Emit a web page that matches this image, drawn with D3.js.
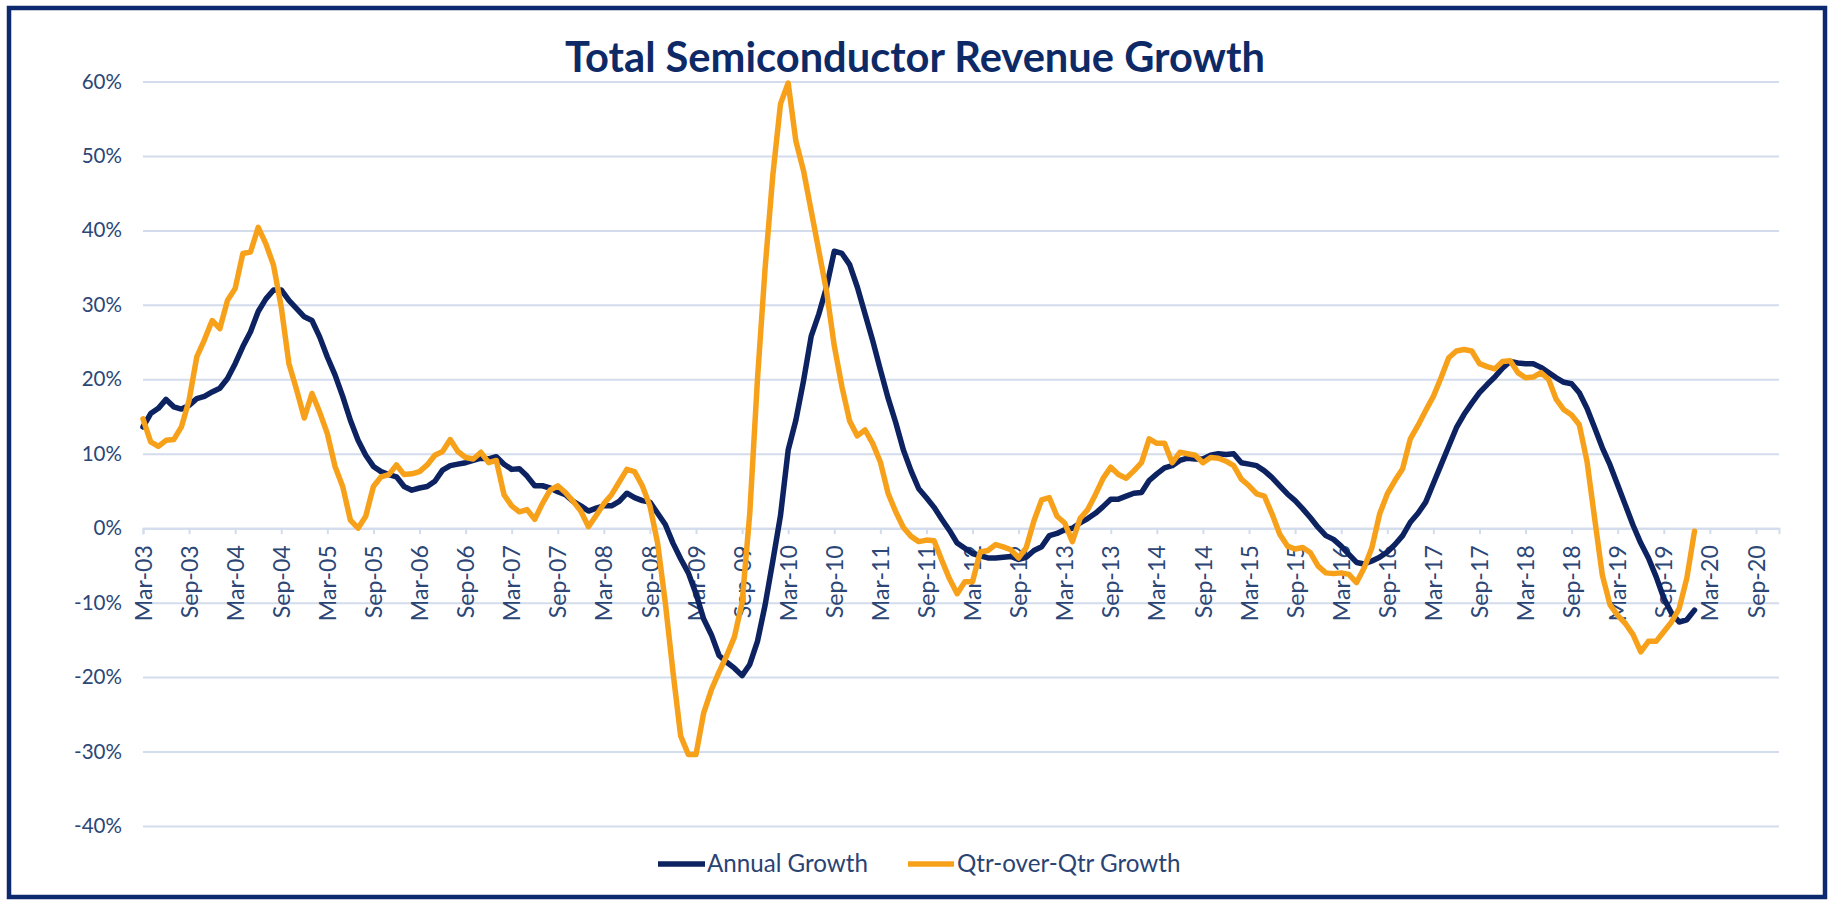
<!DOCTYPE html>
<html>
<head>
<meta charset="utf-8">
<title>Total Semiconductor Revenue Growth</title>
<script src="https://cdn.jsdelivr.net/npm/d3@7"></script>
<style>
  html, body { margin: 0; padding: 0; background: #ffffff; }
  svg { display: block; }
  text { font-family: Lato, "Open Sans", "DejaVu Sans", sans-serif; }
</style>
</head>
<body>
<svg id="chart" width="1832" height="901"></svg>
<script>
// Monthly growth rates (%), starting March 2003
const startMonth = "2003-03";

const annualGrowth = [
  13.6, 15.4, 16.1, 17.3, 16.3, 16.0, 16.5, 17.4, 17.7, 18.3, 18.8, 20.1,
  22.1, 24.4, 26.4, 29.1, 30.8, 32.0, 32.0, 30.6, 29.5, 28.4, 27.9, 25.7,
  23.0, 20.6, 17.7, 14.5, 11.8, 9.8, 8.3, 7.6, 7.2, 6.9, 5.6, 5.1,
  5.4, 5.6, 6.3, 7.8, 8.4, 8.6, 8.8, 9.1, 9.4, 9.3, 9.6, 8.6,
  7.9, 8.0, 7.0, 5.7, 5.7, 5.4, 4.9, 4.5, 3.6, 3.0, 2.3, 2.7,
  3.0, 3.0, 3.6, 4.7, 4.1, 3.7, 3.5, 2.0, 0.5, -2.0, -4.1, -6.0,
  -8.8, -12.2, -14.3, -17.1, -18.0, -18.8, -19.8, -18.3, -15.2, -10.3, -4.4, 1.7,
  10.5, 14.5, 19.8, 25.8, 28.8, 32.4, 37.2, 36.9, 35.4, 32.4, 28.8, 25.2,
  21.3, 17.5, 14.2, 10.5, 7.7, 5.3, 4.1, 2.8, 1.2, -0.3, -2.0, -2.7,
  -3.4, -3.7, -4.0, -4.0, -3.9, -3.8, -4.2, -3.9, -3.0, -2.5, -1.0, -0.7,
  -0.2, 0.0, 0.7, 1.3, 2.0, 2.9, 3.9, 3.9, 4.3, 4.7, 4.8, 6.4,
  7.3, 8.1, 8.4, 9.1, 9.4, 9.3, 9.3, 9.8, 10.0, 9.9, 10.0, 8.8,
  8.6, 8.4, 7.7, 6.8, 5.7, 4.6, 3.7, 2.6, 1.4, 0.1, -1.0, -1.5,
  -2.4, -3.5, -4.6, -4.8, -4.4, -3.9, -3.2, -2.2, -1.0, 0.8, 2.0, 3.5,
  6.0, 8.5, 11.0, 13.5, 15.3, 16.8, 18.2, 19.3, 20.3, 21.5, 22.4, 22.2,
  22.1, 22.1, 21.6, 20.9, 20.2, 19.6, 19.4, 18.2, 16.1, 13.5, 10.8, 8.5,
  5.8, 3.1, 0.4, -2.0, -4.0, -6.5, -9.4, -11.4, -12.6, -12.3, -11.0
];

const qtrOverQtrGrowth = [
  14.7, 11.6, 11.0, 11.8, 11.9, 13.6, 17.2, 23.0, 25.3, 27.9, 26.8, 30.6,
  32.2, 36.9, 37.1, 40.4, 38.2, 35.3, 29.7, 22.1, 18.6, 14.8, 18.1, 15.6,
  12.7, 8.3, 5.6, 1.1, 0.0, 1.6, 5.6, 6.9, 7.2, 8.5, 7.2, 7.3,
  7.6, 8.5, 9.8, 10.3, 11.9, 10.3, 9.5, 9.3, 10.2, 8.8, 9.1, 4.5,
  3.0, 2.2, 2.5, 1.2, 3.3, 5.1, 5.7, 4.8, 3.6, 2.3, 0.2, 1.7,
  3.3, 4.5, 6.2, 7.9, 7.6, 5.7, 3.0, -2.0, -10.0, -19.3, -27.9, -30.4,
  -30.4, -24.8, -21.7, -19.3, -17.1, -14.6, -10.0, 2.0, 20.0, 35.0, 47.4, 57.0,
  59.8, 52.0, 48.0, 42.6, 37.2, 31.8, 24.5, 19.0, 14.4, 12.4, 13.2, 11.4,
  8.9, 4.7, 2.2, 0.1, -1.1, -1.8, -1.6, -1.7, -4.3, -6.8, -8.8, -7.2,
  -7.2, -3.2, -3.0, -2.2, -2.5, -2.9, -4.0, -2.6, 1.0, 3.8, 4.1, 1.6,
  0.7, -1.8, 1.3, 2.5, 4.5, 6.7, 8.2, 7.2, 6.7, 7.7, 8.8, 12.0,
  11.4, 11.4, 8.8, 10.2, 10.0, 9.8, 8.8, 9.5, 9.4, 9.0, 8.4, 6.6,
  5.7, 4.6, 4.3, 1.9, -0.8, -2.4, -2.8, -2.6, -3.3, -5.1, -6.0, -6.1,
  -6.0, -6.2, -7.3, -5.3, -2.6, 1.9, 4.6, 6.4, 8.0, 12.0, 13.8, 15.8,
  17.7, 20.2, 22.9, 23.8, 24.0, 23.8, 22.1, 21.7, 21.4, 22.4, 22.5, 20.9,
  20.2, 20.3, 20.9, 20.0, 17.3, 15.9, 15.2, 13.9, 9.0, 1.3, -6.3, -10.3,
  -11.7, -12.8, -14.3, -16.6, -15.2, -15.2, -13.9, -12.6, -10.8, -6.7, -0.4
];

// Category axis runs monthly from Mar-03 through Dec-20, labelled every six months
const monthCount = 214;
const tickEvery = 6;
const tickLabels = [
  "Mar-03", "Sep-03", "Mar-04", "Sep-04", "Mar-05", "Sep-05", "Mar-06", "Sep-06",
  "Mar-07", "Sep-07", "Mar-08", "Sep-08", "Mar-09", "Sep-09", "Mar-10", "Sep-10",
  "Mar-11", "Sep-11", "Mar-12", "Sep-12", "Mar-13", "Sep-13", "Mar-14", "Sep-14",
  "Mar-15", "Sep-15", "Mar-16", "Sep-16", "Mar-17", "Sep-17", "Mar-18", "Sep-18",
  "Mar-19", "Sep-19", "Mar-20", "Sep-20"
];
const yTicks = [-40, -30, -20, -10, 0, 10, 20, 30, 40, 50, 60];

const seriesNames = ["Annual Growth", "Qtr-over-Qtr Growth"];
const seriesColors = ["#0c2261", "#f7a11b"];

// ---- layout ----
const svg = d3.select("#chart");
const W = 1832, H = 901;
const plot = { left: 143, right: 1779, top: 81.5, bottom: 826 };
const FONT = "Lato, 'Open Sans', 'DejaVu Sans', sans-serif";

// font size that makes `sample` span `width` pixels
function fitSize(sample, width, weight) {
  const t = svg.append("text")
    .style("font-family", FONT)
    .attr("font-weight", weight || 400)
    .attr("font-size", 100)
    .text(sample);
  const len = t.node().getComputedTextLength();
  t.remove();
  return len > 0 ? 100 * width / len : 20;
}

const x = d3.scaleLinear().domain([0, monthCount - 1]).range([plot.left, plot.right]);
const y = d3.scaleLinear().domain([-40, 60]).range([plot.bottom, plot.top]);

svg.append("rect").attr("width", W).attr("height", H).attr("fill", "#ffffff");

// frame
svg.append("rect")
  .attr("x", 9).attr("y", 8).attr("width", 1816).attr("height", 889)
  .attr("fill", "none").attr("stroke", "#0d2a6e").attr("stroke-width", 4.5);

// title
const titleText = "Total Semiconductor Revenue Growth";
svg.append("text")
  .attr("x", 915).attr("y", 72)
  .attr("text-anchor", "middle")
  .style("font-family", FONT)
  .attr("font-size", fitSize(titleText, 700, 700)).attr("font-weight", 700)
  .attr("fill", "#0e2a66")
  .text(titleText);

// horizontal gridlines + y labels
const yLabelSize = fitSize("-40%", 48);
const yAxis = d3.axisLeft(y)
  .tickValues(yTicks)
  .tickSize(-(plot.right - plot.left))
  .tickPadding(21)
  .tickFormat(d => d + "%");

const gy = svg.append("g")
  .attr("transform", `translate(${plot.left},0)`)
  .call(yAxis);
gy.select(".domain").remove();
gy.selectAll(".tick line").attr("stroke", "#d3dcec").attr("stroke-width", 2);
gy.selectAll(".tick text")
  .attr("font-size", yLabelSize)
  .attr("fill", "#2c4676")
  .style("font-family", FONT);

// category axis along the zero line
const xLabelSize = fitSize("Mar-03", 76);
const tickValues = d3.range(0, monthCount, tickEvery);
const xAxis = d3.axisBottom(x)
  .tickValues(tickValues)
  .tickSize(6)
  .tickPadding(0)
  .tickFormat((d, i) => tickLabels[i]);

const gx = svg.append("g")
  .attr("transform", `translate(0,${y(0)})`)
  .call(xAxis);
gx.select(".domain").attr("stroke", "#d3dcec").attr("stroke-width", 2);
gx.selectAll(".tick line").attr("stroke", "#d3dcec").attr("stroke-width", 2);
gx.selectAll(".tick text")
  .attr("font-size", xLabelSize)
  .attr("fill", "#2c4676")
  .attr("transform", "translate(0,17) rotate(-90)")
  .attr("x", 0).attr("y", 0).attr("dy", "0.35em")
  .attr("text-anchor", "end")
  .style("font-family", FONT);

// series lines
const line = d3.line()
  .x((d, i) => x(i))
  .y(d => y(d));

[annualGrowth, qtrOverQtrGrowth].forEach((vals, k) => {
  svg.append("path")
    .datum(vals)
    .attr("fill", "none")
    .attr("stroke", seriesColors[k])
    .attr("stroke-width", 5.5)
    .attr("stroke-linejoin", "round")
    .attr("stroke-linecap", "round")
    .attr("d", line);
});

// legend
const legendItems = [
  { x0: 658, x1: 705, tx: 707 },
  { x0: 908, x1: 954, tx: 957 }
];
const legendY = 864;
const legendSize = fitSize(seriesNames[0], 161);
legendItems.forEach((it, k) => {
  svg.append("line")
    .attr("x1", it.x0).attr("x2", it.x1)
    .attr("y1", legendY).attr("y2", legendY)
    .attr("stroke", seriesColors[k]).attr("stroke-width", 5.5);
  svg.append("text")
    .attr("x", it.tx).attr("y", legendY).attr("dy", "0.35em")
    .style("font-family", FONT)
    .attr("font-size", legendSize).attr("fill", "#2a4372")
    .text(seriesNames[k]);
});
</script>
</body>
</html>
